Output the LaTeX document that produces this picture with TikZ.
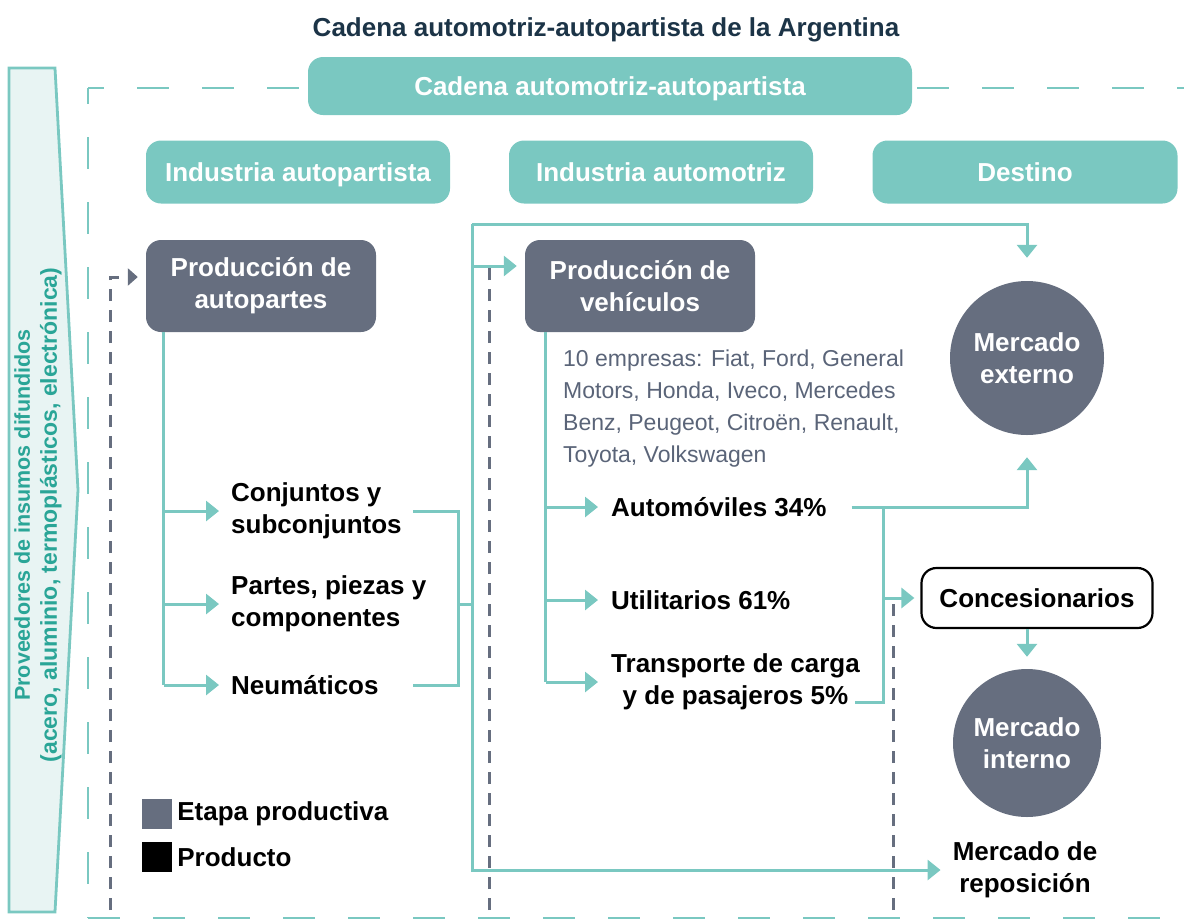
\documentclass[tikz,border=0pt]{standalone}
\usepackage{fontspec}
\setmainfont{Liberation Sans}
\usetikzlibrary{arrows.meta,positioning,calc}
\definecolor{tealC}{HTML}{7AC8C1}
\definecolor{slateC}{HTML}{666E7F}
\definecolor{navyC}{HTML}{1C3447}
\definecolor{provText}{HTML}{2AA597}
\definecolor{provFill}{HTML}{E8F4F3}
\definecolor{firmText}{HTML}{5A6478}
\newcommand{\bigbf}{\fontsize{26}{32}\selectfont\bfseries}
\newcommand{\firmrm}{\fontsize{23}{32}\selectfont}
\tikzset{
	hdr/.style={fill=tealC, text=white, rounded corners=15pt, minimum height=63pt, font=\bigbf, inner sep=0, text depth=0pt},
	stage/.style={fill=slateC, text=white, rounded corners=15pt, minimum width=230pt, minimum height=92pt, align=center, font=\bigbf},
	mkt/.style={circle, fill=slateC, text=white, align=center, font=\bigbf, inner sep=0},
	prod/.style={align=left, font=\bigbf, inner sep=0},
	flow/.style={draw=tealC, line width=3pt, -{Triangle[length=13pt,width=20pt]}},
	tline/.style={draw=tealC, line width=3pt},
	supply/.style={draw=slateC, line width=3pt, dash pattern=on 12pt off 9pt},
	frame/.style={draw=tealC, line width=2.8pt, dash pattern=on 32pt off 33pt, dash phase=16pt}
}

\begin{document}
\begin{tikzpicture}[x=1pt, y=-1pt, line join=miter]
	\useasboundingbox (0,0) rectangle (1184,919);
	% marco de la cadena
	\draw[frame] (88,88) -- (1200,88);
	\draw[frame] (88,88) -- (88,918);
	\draw[frame, dash phase=0pt] (88,918) -- (1200,918);
	\draw[draw=tealC, fill=provFill, line width=2.8pt] (9,68) -- (55,68) -- (78,490) -- (55,912) -- (9,912) -- cycle;
	\node[rotate=90, align=center, text=provText, font=\fontsize{23}{27}\selectfont\bfseries] (prov) at (38,515) {{\fontsize{21.5}{27}\selectfont Proveedores de insumos difundidos}\\(acero, aluminio, termoplásticos, electrónica)};
	
	\node[font=\bigbf, text=navyC] (title) at (606,30) {Cadena automotriz-autopartista de la Argentina};
	\node[hdr, minimum width=604pt, minimum height=58pt] (chain) at (610,86) {Cadena automotriz-autopartista};
	\node[hdr, minimum width=304pt] (hAut) at (298,172) {Industria autopartista};
	\node[hdr, minimum width=304pt] (hVeh) at (661,172) {Industria automotriz};
	\node[hdr, minimum width=305pt] (hDest) at (1025,172) {Destino};
	
	\node[stage] (prodAut) at (261,286) {Producción de\\autopartes};
	\node[stage] (prodVeh) at (640,286) {Producción de\\vehículos};
	
	\node[prod, anchor=west] (conj) at (231,511) {Conjuntos y\\subconjuntos};
	\node[prod, anchor=west] (partes) at (231,604) {Partes, piezas y\\componentes};
	\node[prod, anchor=west] (neum) at (231,685) {Neumáticos};
	
	\node[font=\firmrm, text=firmText, align=left, anchor=north west, inner sep=0] (firms) at (563,350) {10 empresas: Fiat, Ford, General\\Motors, Honda, Iveco, Mercedes\\Benz, Peugeot, Citroën, Renault,\\Toyota, Volkswagen};
	\node[prod, anchor=west] (auto) at (611,507) {Automóviles 34\%};
	\node[prod, anchor=west] (util) at (611,600) {Utilitarios 61\%};
	\node[prod, anchor=west, align=center] (transp) at (611,682) {Transporte de carga\\y de pasajeros 5\%};
	
	\node[mkt, minimum size=154pt] (mext) at (1027,358) {Mercado\\externo};
	\node[draw=black, line width=2.2pt, rounded corners=15pt, minimum width=231pt, minimum height=60pt, font=\bigbf] (conc) at (1037,598) {Concesionarios};
	\node[mkt, minimum size=148pt] (mint) at (1027,743) {Mercado\\interno};
	\node[prod, align=center] (rep) at (1025,870) {Mercado de\\reposición};
	
	\node[fill=slateC, minimum size=30pt, inner sep=0] (lgStage) at (157,814) {};
	\node[prod, right=5pt of lgStage] (lgStageT) {Etapa productiva};
	\node[fill=black, minimum size=30pt, inner sep=0] (lgProd) at (157,857) {};
	\node[prod, right=5pt of lgProd] (lgProdT) {Producto};
	
	% insumos difundidos
	\coordinate (aIn) at ([yshift=9pt]prodAut.west);
	\coordinate (vIn) at ([yshift=20pt]prodVeh.west);
	\coordinate (sA) at (110,910);
	\coordinate (sV) at (489,910);
	\coordinate (sC) at (893,910);
	\draw[supply, -{Triangle[length=10pt,width=17pt]}, shorten >=8pt] (sA) |- (aIn);
	\draw[supply] (sV) -- (sV |- vIn);
	\draw[supply] (sC) -- (sC |- conc);
	
	% autopartes
	\coordinate (aT) at ([xshift=18pt]prodAut.south west);
	\draw[tline] (aT) -- (aT |- neum);
	\foreach \n in {conj,partes,neum}
		\draw[flow, shorten >=12pt] (aT |- \n) -- (\n.west);
	\coordinate (bL) at (413,0);
	\coordinate (bR) at (458,0);
	\coordinate (tk) at (472,224);
	\draw[tline] (bL |- conj) -- (bR |- conj) -- (bR |- neum) -- (bL |- neum);
	\draw[tline] (bR |- partes) -- (tk |- partes);
	\draw[flow, shorten >=23pt] (tk) -| (mext.north);
	\draw[flow, shorten >=12pt] (tk) |- (rep.west);
	\draw[flow, shorten >=8pt] (tk |- vIn) -- (vIn);
	
	% vehiculos
	\coordinate (vT) at ([xshift=21pt]prodVeh.south west);
	\draw[tline] (vT) -- (vT |- transp);
	\foreach \n in {auto,util,transp}
		\draw[flow, shorten >=13pt] (vT |- \n) -- (\n.west);
	\coordinate (rb) at (883,0);
	\coordinate (tE) at (855,702);
	\draw[flow, shorten >=22pt] ([xshift=25pt]auto.east) -| (mext.south);
	\draw[tline] (rb |- auto) |- (tE);
	\draw[flow, shorten >=6pt] (rb |- conc) -- (conc.west);
	\draw[flow, shorten >=12pt] (conc.south -| mint) -- (mint.north);
\end{tikzpicture}
\end{document}
